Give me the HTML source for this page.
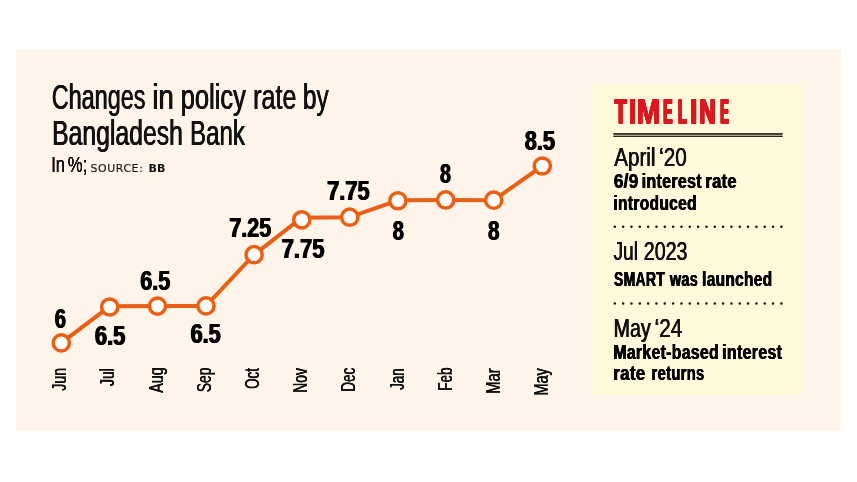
<!DOCTYPE html>
<html lang="en">
<head>
<meta charset="utf-8">
<title>Changes in policy rate by Bangladesh Bank</title>
<style>
html,body{margin:0;padding:0;background:#fff;}
body{width:857px;height:482px;overflow:hidden;}
svg{display:block;}
text{font-family:"Liberation Sans",sans-serif;}
.dj{font-family:"DejaVu Sans","Liberation Sans",sans-serif;}
</style>
</head>
<body>
<svg width="857" height="482" viewBox="0 0 857 482">
<rect x="0" y="0" width="857" height="482" fill="#fff"/>
<rect x="16" y="49.5" width="824.6" height="381.8" fill="#fff4e9"/>
<rect x="592" y="84.3" width="212" height="310.4" fill="#fff9dc"/>
<polyline fill="none" stroke="#ea5f13" stroke-width="4" stroke-linejoin="round" points="61.3,342.9 109.7,306.3 157.5,306.1 205.95,305.9 254.1,254.7 301.5,217.8 349.75,217.2 397.9,200.3 445.7,199.95 493.7,200.15 542.3,166.0"/>
<circle cx="61.3" cy="342.9" r="8.1" fill="#fffdfb" stroke="#ea5f13" stroke-width="3.5"/>
<circle cx="109.7" cy="307.0" r="8.1" fill="#fffdfb" stroke="#ea5f13" stroke-width="3.5"/>
<circle cx="157.5" cy="306.1" r="8.1" fill="#fffdfb" stroke="#ea5f13" stroke-width="3.5"/>
<circle cx="205.95" cy="305.9" r="8.1" fill="#fffdfb" stroke="#ea5f13" stroke-width="3.5"/>
<circle cx="254.1" cy="254.7" r="8.1" fill="#fffdfb" stroke="#ea5f13" stroke-width="3.5"/>
<circle cx="301.75" cy="219.8" r="8.1" fill="#fffdfb" stroke="#ea5f13" stroke-width="3.5"/>
<circle cx="349.75" cy="217.2" r="8.1" fill="#fffdfb" stroke="#ea5f13" stroke-width="3.5"/>
<circle cx="397.9" cy="200.75" r="8.1" fill="#fffdfb" stroke="#ea5f13" stroke-width="3.5"/>
<circle cx="445.7" cy="199.95" r="8.1" fill="#fffdfb" stroke="#ea5f13" stroke-width="3.5"/>
<circle cx="493.7" cy="200.15" r="8.1" fill="#fffdfb" stroke="#ea5f13" stroke-width="3.5"/>
<circle cx="542.3" cy="166.0" r="8.1" fill="#fffdfb" stroke="#ea5f13" stroke-width="3.5"/>
<rect x="613.3" y="133" width="169.3" height="3.9" fill="#bdb5a0"/>
<rect x="613.3" y="133" width="169.3" height="1.8" fill="#3b3429"/>
<rect x="613.3" y="135.9" width="169.3" height="1" fill="#1e170c"/>
<line x1="614.8" y1="226.7" x2="781.6" y2="226.7" stroke="#15120e" stroke-width="2.5" stroke-linecap="round" stroke-dasharray="0 8.33"/>
<line x1="614.8" y1="303.5" x2="781.6" y2="303.5" stroke="#15120e" stroke-width="2.5" stroke-linecap="round" stroke-dasharray="0 8.33"/>
<text y="108.70" font-size="34.30" font-weight="400" fill="#111" style="text-shadow:0.45px 0 0 #111,-0.45px 0 0 #111"><tspan x="51.78" textLength="93.64" lengthAdjust="spacingAndGlyphs">Changes</tspan> <tspan x="152.31" textLength="21.53" lengthAdjust="spacingAndGlyphs">in</tspan> <tspan x="180.77" textLength="65.05" lengthAdjust="spacingAndGlyphs">policy</tspan> <tspan x="253.19" textLength="43.24" lengthAdjust="spacingAndGlyphs">rate</tspan> <tspan x="302.94" textLength="25.76" lengthAdjust="spacingAndGlyphs">by</tspan></text>
<text y="145.30" font-size="34.30" font-weight="400" fill="#111" style="text-shadow:0.45px 0 0 #111,-0.45px 0 0 #111"><tspan x="52.07" textLength="130.83" lengthAdjust="spacingAndGlyphs">Bangladesh</tspan> <tspan x="190.02" textLength="54.91" lengthAdjust="spacingAndGlyphs">Bank</tspan></text>
<text y="172.30" font-size="21.95" font-weight="400" fill="#111" style="text-shadow:0.08px 0 0 #111,-0.08px 0 0 #111"><tspan x="51.19" textLength="13.79" lengthAdjust="spacingAndGlyphs">In</tspan> <tspan x="67.81" textLength="19.57" lengthAdjust="spacingAndGlyphs">%;</tspan></text>
<text x="54.79" y="328.20" textLength="11.24" lengthAdjust="spacingAndGlyphs" font-size="27.03" font-weight="700" fill="#000" style="text-shadow:0.7px 0 0 #000,-0.7px 0 0 #000">6</text>
<text x="94.92" y="344.80" textLength="30.44" lengthAdjust="spacingAndGlyphs" font-size="27.03" font-weight="700" fill="#000" style="text-shadow:0.7px 0 0 #000,-0.7px 0 0 #000">6.5</text>
<text x="140.23" y="289.80" textLength="30.12" lengthAdjust="spacingAndGlyphs" font-size="27.03" font-weight="700" fill="#000" style="text-shadow:0.7px 0 0 #000,-0.7px 0 0 #000">6.5</text>
<text x="190.64" y="343.30" textLength="30.01" lengthAdjust="spacingAndGlyphs" font-size="27.03" font-weight="700" fill="#000" style="text-shadow:0.7px 0 0 #000,-0.7px 0 0 #000">6.5</text>
<text x="229.34" y="237.40" textLength="41.93" lengthAdjust="spacingAndGlyphs" font-size="27.03" font-weight="700" fill="#000" style="text-shadow:0.7px 0 0 #000,-0.7px 0 0 #000">7.25</text>
<text x="281.62" y="257.90" textLength="42.86" lengthAdjust="spacingAndGlyphs" font-size="27.03" font-weight="700" fill="#000" style="text-shadow:0.7px 0 0 #000,-0.7px 0 0 #000">7.75</text>
<text x="327.13" y="200.40" textLength="42.55" lengthAdjust="spacingAndGlyphs" font-size="27.03" font-weight="700" fill="#000" style="text-shadow:0.7px 0 0 #000,-0.7px 0 0 #000">7.75</text>
<text x="392.80" y="239.75" textLength="11.13" lengthAdjust="spacingAndGlyphs" font-size="27.03" font-weight="700" fill="#000" style="text-shadow:0.7px 0 0 #000,-0.7px 0 0 #000">8</text>
<text x="440.11" y="182.60" textLength="10.90" lengthAdjust="spacingAndGlyphs" font-size="27.03" font-weight="700" fill="#000" style="text-shadow:0.7px 0 0 #000,-0.7px 0 0 #000">8</text>
<text x="487.98" y="239.75" textLength="11.46" lengthAdjust="spacingAndGlyphs" font-size="27.03" font-weight="700" fill="#000" style="text-shadow:0.7px 0 0 #000,-0.7px 0 0 #000">8</text>
<text x="524.75" y="149.80" textLength="30.31" lengthAdjust="spacingAndGlyphs" font-size="27.03" font-weight="700" fill="#000" style="text-shadow:0.7px 0 0 #000,-0.7px 0 0 #000">8.5</text>
<text transform="translate(66.00 0) rotate(-90)" x="-390.78" y="0" textLength="22.76" lengthAdjust="spacingAndGlyphs" font-size="21.08" font-weight="400" fill="#111" style="text-shadow:0.3px 0 0 #111,-0.3px 0 0 #111">Jun</text>
<text transform="translate(113.90 0) rotate(-90)" x="-385.98" y="0" textLength="17.73" lengthAdjust="spacingAndGlyphs" font-size="21.08" font-weight="400" fill="#111" style="text-shadow:0.3px 0 0 #111,-0.3px 0 0 #111">Jul</text>
<text transform="translate(162.90 0) rotate(-90)" x="-392.80" y="0" textLength="25.60" lengthAdjust="spacingAndGlyphs" font-size="21.08" font-weight="400" fill="#111" style="text-shadow:0.3px 0 0 #111,-0.3px 0 0 #111">Aug</text>
<text transform="translate(210.50 0) rotate(-90)" x="-392.09" y="0" textLength="24.43" lengthAdjust="spacingAndGlyphs" font-size="21.08" font-weight="400" fill="#111" style="text-shadow:0.3px 0 0 #111,-0.3px 0 0 #111">Sep</text>
<text transform="translate(259.10 0) rotate(-90)" x="-388.87" y="0" textLength="20.74" lengthAdjust="spacingAndGlyphs" font-size="21.08" font-weight="400" fill="#111" style="text-shadow:0.3px 0 0 #111,-0.3px 0 0 #111">Oct</text>
<text transform="translate(307.30 0) rotate(-90)" x="-392.71" y="0" textLength="24.62" lengthAdjust="spacingAndGlyphs" font-size="21.08" font-weight="400" fill="#111" style="text-shadow:0.3px 0 0 #111,-0.3px 0 0 #111">Nov</text>
<text transform="translate(355.40 0) rotate(-90)" x="-391.57" y="0" textLength="23.75" lengthAdjust="spacingAndGlyphs" font-size="21.08" font-weight="400" fill="#111" style="text-shadow:0.3px 0 0 #111,-0.3px 0 0 #111">Dec</text>
<text transform="translate(403.80 0) rotate(-90)" x="-389.87" y="0" textLength="21.50" lengthAdjust="spacingAndGlyphs" font-size="21.08" font-weight="400" fill="#111" style="text-shadow:0.3px 0 0 #111,-0.3px 0 0 #111">Jan</text>
<text transform="translate(451.90 0) rotate(-90)" x="-390.67" y="0" textLength="23.05" lengthAdjust="spacingAndGlyphs" font-size="21.08" font-weight="400" fill="#111" style="text-shadow:0.3px 0 0 #111,-0.3px 0 0 #111">Feb</text>
<text transform="translate(500.20 0) rotate(-90)" x="-393.78" y="0" textLength="25.46" lengthAdjust="spacingAndGlyphs" font-size="21.08" font-weight="400" fill="#111" style="text-shadow:0.3px 0 0 #111,-0.3px 0 0 #111">Mar</text>
<text transform="translate(548.30 0) rotate(-90)" x="-395.56" y="0" textLength="27.35" lengthAdjust="spacingAndGlyphs" font-size="21.08" font-weight="400" fill="#111" style="text-shadow:0.3px 0 0 #111,-0.3px 0 0 #111">May</text>
<text y="123.45" font-size="34.30" font-weight="700" fill="#da1820"><tspan x="614.60" textLength="12.01" lengthAdjust="spacingAndGlyphs" style="text-shadow:-1.00px -0.35px 0 #da1820,-1.00px 0.00px 0 #da1820,-1.00px 0.35px 0 #da1820,0.00px -0.35px 0 #da1820,0.00px 0.35px 0 #da1820,1.00px -0.35px 0 #da1820,1.00px 0.00px 0 #da1820,1.00px 0.35px 0 #da1820">T</tspan><tspan x="628.70" textLength="7.94" lengthAdjust="spacingAndGlyphs" style="text-shadow:-0.50px -0.35px 0 #da1820,-0.50px 0.00px 0 #da1820,-0.50px 0.35px 0 #da1820,0.00px -0.35px 0 #da1820,0.00px 0.35px 0 #da1820,0.50px -0.35px 0 #da1820,0.50px 0.00px 0 #da1820,0.50px 0.35px 0 #da1820">I</tspan><tspan x="636.62" textLength="23.57" lengthAdjust="spacingAndGlyphs" style="text-shadow:-0.50px -0.35px 0 #da1820,-0.50px 0.00px 0 #da1820,-0.50px 0.35px 0 #da1820,0.00px -0.35px 0 #da1820,0.00px 0.35px 0 #da1820,0.50px -0.35px 0 #da1820,0.50px 0.00px 0 #da1820,0.50px 0.35px 0 #da1820">M</tspan><tspan x="663.49" textLength="8.70" lengthAdjust="spacingAndGlyphs" style="text-shadow:-1.70px -0.35px 0 #da1820,-1.70px 0.00px 0 #da1820,-1.70px 0.35px 0 #da1820,0.00px -0.35px 0 #da1820,0.00px 0.35px 0 #da1820,1.70px -0.35px 0 #da1820,1.70px 0.00px 0 #da1820,1.70px 0.35px 0 #da1820">E</tspan><tspan x="678.14" textLength="8.39" lengthAdjust="spacingAndGlyphs" style="text-shadow:-1.70px -0.35px 0 #da1820,-1.70px 0.00px 0 #da1820,-1.70px 0.35px 0 #da1820,0.00px -0.35px 0 #da1820,0.00px 0.35px 0 #da1820,1.70px -0.35px 0 #da1820,1.70px 0.00px 0 #da1820,1.70px 0.35px 0 #da1820">L</tspan><tspan x="689.75" textLength="7.74" lengthAdjust="spacingAndGlyphs" style="text-shadow:-0.50px -0.35px 0 #da1820,-0.50px 0.00px 0 #da1820,-0.50px 0.35px 0 #da1820,0.00px -0.35px 0 #da1820,0.00px 0.35px 0 #da1820,0.50px -0.35px 0 #da1820,0.50px 0.00px 0 #da1820,0.50px 0.35px 0 #da1820">I</tspan><tspan x="699.43" textLength="16.19" lengthAdjust="spacingAndGlyphs" style="text-shadow:-0.90px -0.35px 0 #da1820,-0.90px 0.00px 0 #da1820,-0.90px 0.35px 0 #da1820,0.00px -0.35px 0 #da1820,0.00px 0.35px 0 #da1820,0.90px -0.35px 0 #da1820,0.90px 0.00px 0 #da1820,0.90px 0.35px 0 #da1820">N</tspan><tspan x="720.33" textLength="8.34" lengthAdjust="spacingAndGlyphs" style="text-shadow:-1.70px -0.35px 0 #da1820,-1.70px 0.00px 0 #da1820,-1.70px 0.35px 0 #da1820,0.00px -0.35px 0 #da1820,0.00px 0.35px 0 #da1820,1.70px -0.35px 0 #da1820,1.70px 0.00px 0 #da1820,1.70px 0.35px 0 #da1820">E</tspan></text>
<text y="166.10" font-size="26.31" font-weight="400" fill="#111" style="text-shadow:0.38px 0 0 #111,-0.38px 0 0 #111"><tspan x="614.28" textLength="41.19" lengthAdjust="spacingAndGlyphs">April</tspan> <tspan x="659.14" textLength="27.60" lengthAdjust="spacingAndGlyphs">‘20</tspan></text>
<text y="188.40" font-size="19.33" font-weight="700" fill="#000" style="letter-spacing:0.02em;text-shadow:0.4px 0 0 #000,-0.4px 0 0 #000"><tspan x="613.82" textLength="24.81" lengthAdjust="spacingAndGlyphs">6/9</tspan> <tspan x="641.68" textLength="60.23" lengthAdjust="spacingAndGlyphs">interest</tspan> <tspan x="705.45" textLength="31.45" lengthAdjust="spacingAndGlyphs">rate</tspan></text>
<text x="613.41" y="209.70" textLength="83.54" lengthAdjust="spacingAndGlyphs" font-size="19.33" font-weight="700" fill="#000" style="letter-spacing:0.02em;text-shadow:0.4px 0 0 #000,-0.4px 0 0 #000">introduced</text>
<text y="260.40" font-size="26.31" font-weight="400" fill="#111" style="text-shadow:0.38px 0 0 #111,-0.38px 0 0 #111"><tspan x="613.50" textLength="24.54" lengthAdjust="spacingAndGlyphs">Jul</tspan> <tspan x="643.80" textLength="43.70" lengthAdjust="spacingAndGlyphs">2023</tspan></text>
<text y="286.30" font-size="19.33" font-weight="700" fill="#000" style="letter-spacing:0.02em;text-shadow:0.4px 0 0 #000,-0.4px 0 0 #000"><tspan x="614.08" textLength="50.97" lengthAdjust="spacingAndGlyphs">SMART</tspan> <tspan x="669.90" textLength="28.17" lengthAdjust="spacingAndGlyphs">was</tspan> <tspan x="702.12" textLength="70.27" lengthAdjust="spacingAndGlyphs">launched</tspan></text>
<text y="336.90" font-size="26.31" font-weight="400" fill="#111" style="text-shadow:0.38px 0 0 #111,-0.38px 0 0 #111"><tspan x="613.61" textLength="37.10" lengthAdjust="spacingAndGlyphs">May</tspan> <tspan x="654.64" textLength="27.59" lengthAdjust="spacingAndGlyphs">‘24</tspan></text>
<text y="358.70" font-size="19.33" font-weight="700" fill="#000" style="letter-spacing:0.02em;text-shadow:0.4px 0 0 #000,-0.4px 0 0 #000"><tspan x="613.39" textLength="105.58" lengthAdjust="spacingAndGlyphs">Market-based</tspan> <tspan x="722.18" textLength="60.13" lengthAdjust="spacingAndGlyphs">interest</tspan></text>
<text y="380.40" font-size="19.33" font-weight="700" fill="#000" style="letter-spacing:0.02em;text-shadow:0.4px 0 0 #000,-0.4px 0 0 #000"><tspan x="613.32" textLength="32.19" lengthAdjust="spacingAndGlyphs">rate</tspan> <tspan x="651.57" textLength="53.00" lengthAdjust="spacingAndGlyphs">returns</tspan></text>
<text class="dj" x="90.4" y="172.3" font-size="10.9" fill="#151515" stroke="#151515" stroke-width="0.15" textLength="52.4" lengthAdjust="spacing">SOURCE:</text>
<text class="dj" x="148.5" y="172.3" font-size="9.9" font-weight="700" fill="#111" textLength="16.9" lengthAdjust="spacingAndGlyphs">BB</text>
</svg>
</body>
</html>
